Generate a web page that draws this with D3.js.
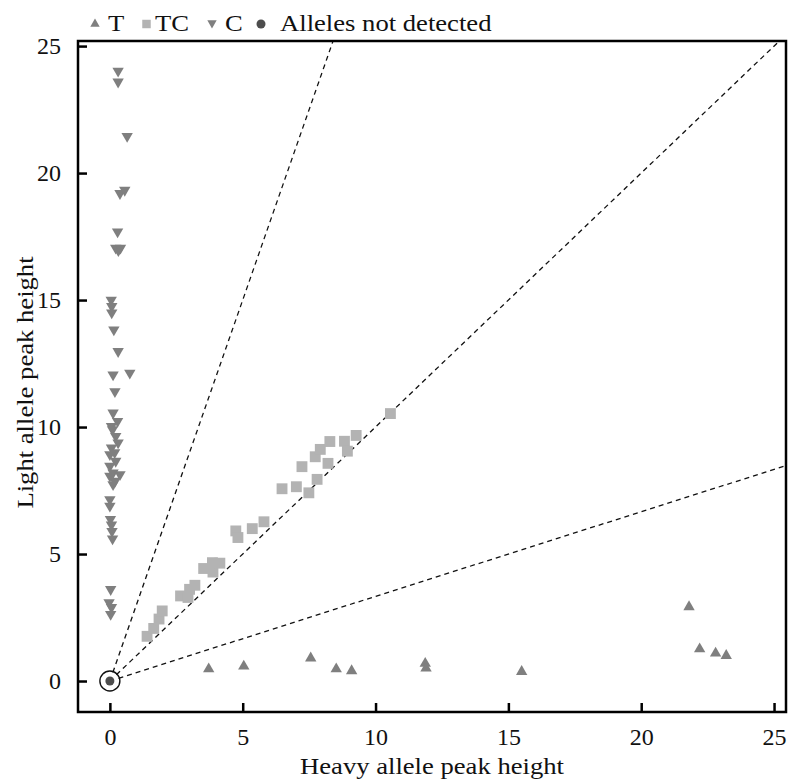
<!DOCTYPE html>
<html lang="en">
<head>
    <meta charset="UTF-8">
    <title>Allele peak heights</title>
    <script src="https://d3js.org/d3.v7.min.js"></script>
    <style>
        body { margin: 0; background: #fff; }
        text { font-family: "Liberation Serif", "Times New Roman", serif; fill: #111; }
    </style>
</head>
<body>
    <div id="chart"></div>
    <script>
        // T genotype (heavy allele only)
        const tX = [3.72, 5.04, 7.56, 8.52, 9.10, 11.87, 11.90, 15.50, 21.80, 22.20, 22.80, 23.20];
        const tY = [0.47, 0.58, 0.90, 0.47, 0.40, 0.69, 0.50, 0.37, 2.92, 1.26, 1.09, 1.00];

        // TC genotype (both alleles)
        const tcX = [1.40, 1.65, 1.85, 1.97, 2.66, 2.94, 3.00, 3.20, 3.53, 3.86, 3.88, 4.14, 4.74, 4.82,
                     5.36, 5.80, 6.48, 7.02, 7.49, 7.23, 7.80, 7.73, 7.92, 8.21, 8.28, 8.83, 8.94, 9.27, 10.56];
        const tcY = [1.76, 2.07, 2.44, 2.76, 3.35, 3.29, 3.61, 3.77, 4.43, 4.66, 4.29, 4.64, 5.91, 5.65,
                     6.00, 6.27, 7.57, 7.65, 7.41, 8.44, 7.94, 8.83, 9.12, 8.57, 9.43, 9.44, 9.05, 9.67, 10.53];

        // C genotype (light allele only)
        const cX = [0.31, 0.31, 0.65, 0.38, 0.56, 0.29, 0.22, 0.32, 0.40, 0.05, 0.07, 0.07, 0.15, 0.31,
                    0.12, 0.75, 0.19, 0.12, 0.29, 0.06, 0.10, 0.22, 0.31, 0.06, 0.18, 0.00, 0.22, 0.00,
                    0.12, 0.38, 0.00, 0.19, 0.12, 0.00, 0.00, 0.02, 0.06, 0.08, 0.10, 0.03, -0.03, 0.06, 0.03];
        const cY = [24.02, 23.59, 21.45, 19.20, 19.33, 17.69, 17.05, 16.95, 17.05, 15.00, 14.75, 14.50, 13.83, 12.98,
                    12.06, 12.13, 11.40, 10.56, 10.23, 10.03, 9.90, 9.64, 9.38, 9.18, 9.00, 8.92, 8.66, 8.46,
                    8.20, 8.13, 8.07, 7.87, 7.74, 7.15, 6.89, 6.37, 6.15, 5.90, 5.60, 3.61, 3.09, 2.90, 2.63];

        // alleles not detected
        const ndX = [0];
        const ndY = [0];

        const ratioSlopes = [3, 1, 1 / 3];
        const tickValues = [0, 5, 10, 15, 20, 25];
        const legendItems = ["T", "TC", "C", "Alleles not detected"];

        const W = 792, H = 779;
        const margin = {top: 41, right: 6, bottom: 67, left: 78};

        const x = d3.scaleLinear().domain([-1.2, 25.45]).range([margin.left, W - margin.right]);
        const y = d3.scaleLinear().domain([-1.22, 25.2]).range([H - margin.bottom, margin.top]);

        const svg = d3.select("#chart").append("svg")
            .attr("width", W)
            .attr("height", H);

        svg.append("clipPath").attr("id", "plot-clip")
            .append("rect")
            .attr("x", x.range()[0]).attr("y", y.range()[1])
            .attr("width", x.range()[1] - x.range()[0])
            .attr("height", y.range()[0] - y.range()[1]);

        // Ratio guide lines from the origin
        const x0 = x(0), y0 = y(0);
        svg.append("g").attr("clip-path", "url(#plot-clip)")
            .selectAll("line")
            .data(ratioSlopes)
            .join("line")
            .each(function(m) {
                const xe = Math.min(x.domain()[1], y.domain()[1] / m) * 1.05;
                const x1 = x(xe), y1 = y(xe * m);
                const len = Math.hypot(x1 - x0, y1 - y0);
                const ux = (x1 - x0) / len, uy = (y1 - y0) / len;
                d3.select(this)
                    .attr("x1", x0 + ux * 9).attr("y1", y0 + uy * 9)
                    .attr("x2", x1).attr("y2", y1);
            })
            .attr("stroke", "#111")
            .attr("stroke-width", 1.3)
            .attr("stroke-dasharray", "5,4");

        const triUp = d3.symbol().type(d3.symbolTriangle).size(56);
        const square = d3.symbol().type(d3.symbolSquare).size(118);

        // TC squares
        svg.append("g").selectAll("path")
            .data(tcX.map((v, i) => [v, tcY[i]]))
            .join("path")
            .attr("d", square)
            .attr("transform", d => `translate(${x(d[0])},${y(d[1])})`)
            .attr("fill", "#b3b3b3");

        // C triangles (pointing down)
        svg.append("g").selectAll("path")
            .data(cX.map((v, i) => [v, cY[i]]))
            .join("path")
            .attr("d", triUp)
            .attr("transform", d => `translate(${x(d[0])},${y(d[1])}) rotate(180)`)
            .attr("fill", "#7f7f7f");

        // T triangles (pointing up)
        svg.append("g").selectAll("path")
            .data(tX.map((v, i) => [v, tY[i]]))
            .join("path")
            .attr("d", triUp)
            .attr("transform", d => `translate(${x(d[0])},${y(d[1])})`)
            .attr("fill", "#7f7f7f");

        // not detected: dot with a ring round it
        const nd = svg.append("g").selectAll("g")
            .data(ndX.map((v, i) => [v, ndY[i]]))
            .join("g")
            .attr("transform", d => `translate(${x(d[0])},${y(d[1])})`);
        nd.append("circle").attr("r", 10).attr("fill", "none").attr("stroke", "#111").attr("stroke-width", 1.4);
        nd.append("circle").attr("r", 4.5).attr("fill", "#4d4d4d");

        // Axes, ticks pointing inward
        const xAxis = svg.append("g")
            .attr("transform", `translate(0,${y.range()[0]})`)
            .call(d3.axisBottom(x).tickValues(tickValues).tickSizeInner(-9).tickSizeOuter(0).tickPadding(16));
        const yAxis = svg.append("g")
            .attr("transform", `translate(${x.range()[0]},0)`)
            .call(d3.axisLeft(y).tickValues(tickValues).tickSizeInner(-9).tickSizeOuter(0).tickPadding(17));

        [xAxis, yAxis].forEach(a => {
            a.select(".domain").remove();
            a.selectAll(".tick line").attr("stroke", "#000").attr("stroke-width", 2.5);
            a.selectAll(".tick text")
                .attr("font-family", "Liberation Serif, serif")
                .attr("font-size", 24)
                .attr("fill", "#111");
        });

        // Frame
        svg.append("rect")
            .attr("x", x.range()[0]).attr("y", y.range()[1])
            .attr("width", x.range()[1] - x.range()[0])
            .attr("height", y.range()[0] - y.range()[1])
            .attr("fill", "none")
            .attr("stroke", "#000")
            .attr("stroke-width", 2.5);

        // Axis titles (the original type is a little wide)
        svg.append("text")
            .attr("transform", `translate(${(x.range()[0] + x.range()[1]) / 2},774) scale(1.11,1)`)
            .attr("text-anchor", "middle")
            .attr("font-size", 24)
            .text("Heavy allele peak height");

        svg.append("text")
            .attr("transform", `translate(33,${(y.range()[0] + y.range()[1]) / 2 + 6}) rotate(-90) scale(1.11,1)`)
            .attr("text-anchor", "middle")
            .attr("font-size", 24)
            .text("Light allele peak height");

        // Legend
        const legend = svg.append("g").attr("transform", "translate(0,31)");
        const legendPos = [[95, 108], [146.5, 155], [212, 225], [261, 280]];
        const smallTri = d3.symbol().type(d3.symbolTriangle).size(38);
        legendItems.forEach((label, i) => {
            const [mx, tx] = legendPos[i];
            if (i === 0) {
                legend.append("path").attr("d", smallTri).attr("transform", `translate(${mx},-7)`).attr("fill", "#7f7f7f");
            } else if (i === 1) {
                legend.append("path").attr("d", d3.symbol().type(d3.symbolSquare).size(72))
                    .attr("transform", `translate(${mx},-7)`).attr("fill", "#b3b3b3");
            } else if (i === 2) {
                legend.append("path").attr("d", smallTri).attr("transform", `translate(${mx},-8) rotate(180)`).attr("fill", "#7f7f7f");
            } else {
                legend.append("circle").attr("cx", mx).attr("cy", -7).attr("r", 4.5).attr("fill", "#4d4d4d");
            }
            legend.append("text")
                .attr("transform", `translate(${tx},0) scale(1.11,1)`)
                .attr("font-size", 24)
                .text(label);
        });
    </script>
</body>
</html>
